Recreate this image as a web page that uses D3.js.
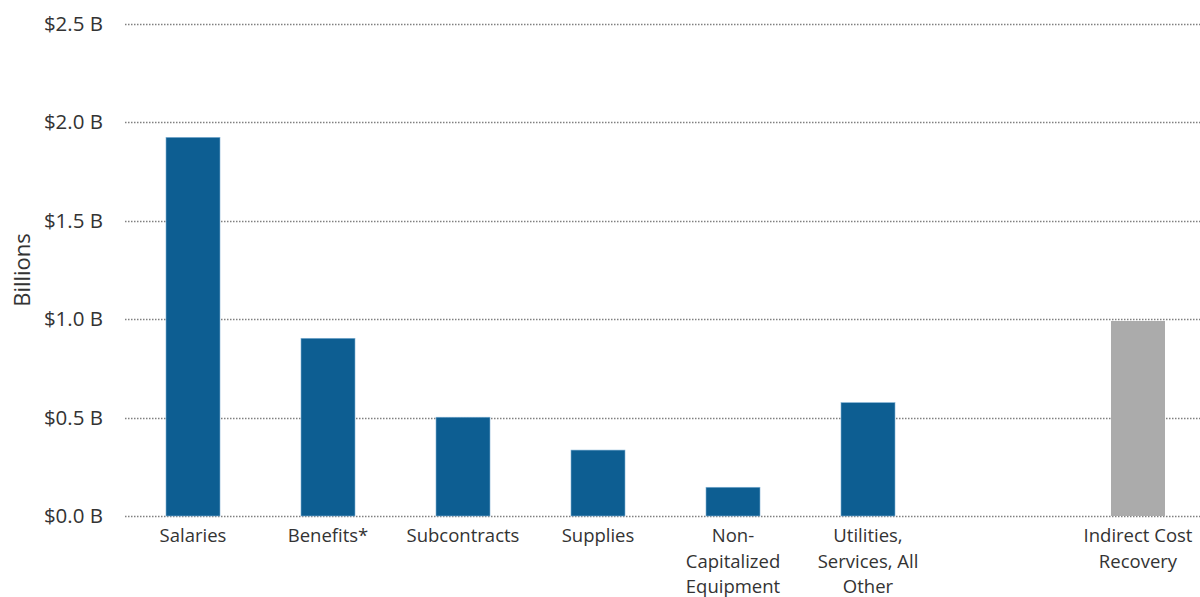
<!DOCTYPE html>
<html>
<head>
<meta charset="utf-8">
<script src="https://cdn.jsdelivr.net/npm/d3@7"></script>
<style>
  body { margin: 0; background: #fff; }
  svg { display: block; font-family: "Open Sans", "Noto Sans", sans-serif; }
</style>
</head>
<body>
<svg id="chart" width="1200" height="597"></svg>
<script>
const categories = ["Salaries", "Benefits*", "Subcontracts", "Supplies", "Non-Capitalized Equipment", "Utilities, Services, All Other", "", "Indirect Cost Recovery"];
const categoryLines = [["Salaries"], ["Benefits*"], ["Subcontracts"], ["Supplies"], ["Non-", "Capitalized", "Equipment"], ["Utilities,", "Services, All", "Other"], [], ["Indirect Cost", "Recovery"]];
const values = [1.924, 0.903, 0.502, 0.335, 0.146, 0.576, null, 0.991];
const barKinds = ["direct", "direct", "direct", "direct", "direct", "direct", "none", "indirect"];
const yTicks = [0, 0.5, 1.0, 1.5, 2.0, 2.5];

const svg = d3.select("#chart");
const x = d3.scaleBand().domain(d3.range(categories.length)).range([125.5, 1205.5]).paddingInner(0.6).paddingOuter(0.3);
const y = d3.scaleLinear().domain([0, 2.5]).range([516, 24]);

// gridlines
svg.append("g").selectAll("line").data(yTicks).join("line")
  .attr("x1", 125).attr("x2", 1200)
  .attr("y1", d => Math.round(y(d)) + 0.5).attr("y2", d => Math.round(y(d)) + 0.5)
  .attr("stroke", "#808080").attr("stroke-width", 1.5).attr("stroke-dasharray", "1.5,1.5");

// y-axis labels
const yAxis = d3.axisLeft(y).tickValues(yTicks).tickSize(0).tickPadding(0)
  .tickFormat(d => "$" + d3.format(".1f")(d) + " B");
const ya = svg.append("g").attr("transform", "translate(103,0)").call(yAxis);
ya.select(".domain").remove();
ya.selectAll("text").attr("font-size", 20.5).attr("fill", "#333").attr("font-family", "'Open Sans', sans-serif");

// y title
svg.append("text").attr("transform", "translate(30,270) rotate(-90)")
  .attr("text-anchor", "middle").attr("font-size", 22).attr("fill", "#333").text("Billions");

// bars
const barData = values.map((v, i) => ({ i, v, kind: barKinds[i] })).filter(d => d.v !== null);
svg.append("g").selectAll("rect").data(barData).join("rect")
  .attr("x", d => x(d.i)).attr("width", x.bandwidth())
  .attr("y", d => y(d.v)).attr("height", d => y(0) - y(d.v))
  .attr("fill", d => d.kind === "indirect" ? "#ababab" : "#0d5e92")
  .attr("stroke", d => d.kind === "indirect" ? "none" : "#7fb0d3")
  .attr("stroke-width", 0.6);

// x labels
const xl = svg.append("g").selectAll("text").data(categoryLines.map((l, i) => ({ l, i }))).join("text")
  .attr("x", d => x(d.i) + x.bandwidth() / 2).attr("y", 542)
  .attr("text-anchor", "middle").attr("font-size", 18.5).attr("fill", "#333");
xl.selectAll("tspan").data(d => d.l.map((t, k) => ({ t, k, xx: x(d.i) + x.bandwidth() / 2 }))).join("tspan")
  .attr("x", d => d.xx).attr("dy", d => d.k === 0 ? 0 : 25.5).text(d => d.t);
</script>
</body>
</html>
